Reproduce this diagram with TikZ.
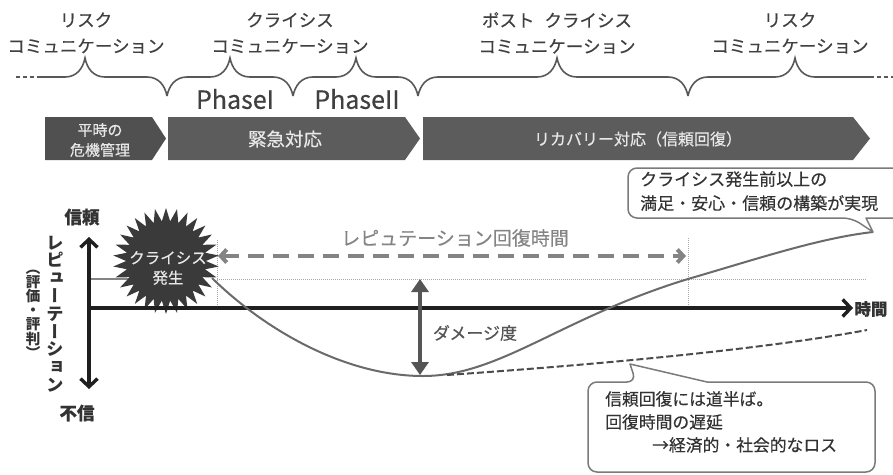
\documentclass[tikz,border=0pt]{standalone}
\usepackage{fontspec}
\setmainfont[FakeBold=0.35]{Noto Sans CJK JP}
\newfontfamily\vjp[RawFeature=+vert]{Noto Sans CJK JP}
\usetikzlibrary{arrows.meta,shapes.geometric}
\definecolor{hdrcol}{HTML}{404040}
\definecolor{bracecol}{HTML}{585858}
\definecolor{chevA}{HTML}{505050}
\definecolor{chevB}{HTML}{5C5C5C}
\definecolor{chevtxt}{HTML}{E8E8E8}
\definecolor{curvecol}{HTML}{6A6A6A}
\definecolor{dotcol}{HTML}{A8A8A8}
\definecolor{spancol}{HTML}{848484}
\definecolor{dmgcol}{HTML}{555555}
\definecolor{burstcol}{HTML}{3A3A3A}
\definecolor{calloutcol}{HTML}{7A7A7A}
\definecolor{txtcol}{HTML}{333333}
\tikzset{
  hdr/.style={align=center, text=hdrcol, inner sep=0, font=\fontsize{17.5}{26}\selectfont},
  phase/.style={text=hdrcol, inner sep=0, font=\fontsize{25}{28}\selectfont},
  brace/.style={draw=bracecol, line width=1.6pt},
  chevtext/.style={text=chevtxt, align=center, inner sep=0},
  axisline/.style={draw=black!88, line width=3.4pt},
  barb/.style={-{Straight Barb[length=8pt,width=17pt]}},
  guide/.style={draw=dotcol, line width=0.9pt, dash pattern=on 1pt off 1pt},
  curve/.style={draw=curvecol, line width=2pt},
  span/.style={draw=spancol, line width=4pt, dash pattern=on 16pt off 9pt},
  dmg/.style={draw=dmgcol, line width=4.5pt, {Triangle[length=13pt,width=17pt]}-{Triangle[length=13pt,width=17pt]}},
  callout/.style={draw=calloutcol, fill=white, line width=1.5pt, line join=round},
  graphlbl/.style={text=txtcol, inner sep=0, font=\bfseries\fontsize{17.5}{20}\selectfont},
  calltext/.style={text=txtcol, inner sep=0, align=left, anchor=north west},
}
\begin{document}
\begin{tikzpicture}[x=1pt,y=-1pt]
\useasboundingbox (0,0) rectangle (893,474);
\fill[white] (0,0) rectangle (893,474);

% ---- header labels
\node[hdr] (rc1) at (86,33) {リスク\\コミュニケーション};
\node[hdr] (cc) at (290,33) {クライシス\\コミュニケーション};
\node[hdr] (pc) at (557,33) {ポスト\hspace{10pt}クライシス\\コミュニケーション};
\node[hdr] (rc2) at (790,33) {リスク\\コミュニケーション};

% ---- braces
\draw[brace, dash pattern=on 4pt off 3pt] (16,77) -- (40,77);
\draw[brace] (40,77) -- (65,77) .. controls (77,77) and (83,68) .. (85,58)
  .. controls (87,68) and (93,77) .. (105,77) -- (147,77)
  .. controls (159,77) and (165,86) .. (167,96);
\foreach \a/\m/\b in {167/230/293, 293/356/418, 418/557/688} {
  \draw[brace] (\a,96) .. controls (\a+2,86) and (\a+8,77) .. (\a+20,77) -- (\m-20,77)
    .. controls (\m-8,77) and (\m-2,68) .. (\m,58)
    .. controls (\m+2,68) and (\m+8,77) .. (\m+20,77) -- (\b-20,77)
    .. controls (\b-8,77) and (\b-2,86) .. (\b,96);
}
\draw[brace] (688,96) .. controls (690,86) and (696,77) .. (708,77) -- (775,77)
  .. controls (787,77) and (793,68) .. (795,58)
  .. controls (797,68) and (803,77) .. (815,77) -- (870,77);
\draw[brace, dash pattern=on 4pt off 3pt] (870,77) -- (893,77);

\node[phase] (p1) at (235,99) {PhaseI};
\node[phase] (p2) at (357,99) {PhaseII};

% ---- chevrons
\fill[chevA] (45,117) -- (152,117) -- (166,138.5) -- (152,160) -- (45,160) -- cycle;
\fill[chevB] (168,117) -- (405,117) -- (420,138.5) -- (405,160) -- (168,160) -- cycle;
\fill[chevB] (423,117) -- (853,117) -- (870,138.5) -- (853,160) -- (423,160) -- cycle;
\node[chevtext, font=\fontsize{15}{20}\selectfont] (c1) at (100,140) {平時の\\危機管理};
\node[chevtext, font=\fontsize{18.5}{20}\selectfont] (c2) at (285,139) {緊急対応};
\node[chevtext, font=\fontsize{16}{20}\selectfont] (c3) at (638,139) {リカバリー対応（信頼回復）};

% ---- coordinates
\coordinate (ytop) at (89,237);
\coordinate (ybot) at (89,389);
\coordinate (orig) at (89,308);
\coordinate (xend) at (853,308);
\coordinate (pre0) at (89,279);
\coordinate (crisis) at (212,278);
\coordinate (minpt) at (423,376);
\coordinate (recov) at (688,279);
\coordinate (goal) at (873,232);
\coordinate (lossend) at (867,330);

% ---- guides
\draw[guide] (217,279) -- (867,279);
\draw[guide] (217,240) -- (217,307);
\draw[guide] (688,238) -- (688,307);

% ---- pre-crisis level
\draw[curve, draw=spancol] (pre0) -- (130,279);

% ---- burst
\node[star, star points=30, star point ratio=1.33, minimum size=106pt, inner sep=0, fill=burstcol] (burst) at (166,261) {};
\node[align=center, text=chevtxt, inner sep=0, font=\fontsize{15.5}{20}\selectfont] (bursttxt) at (168,268) {クライシス\\発生};

% ---- axes
\draw[axisline, barb] (orig) -- (xend);
\draw[axisline, {Straight Barb[length=8pt,width=17pt]}-{Straight Barb[length=8pt,width=17pt]}] (ytop) -- (ybot);

% ---- curves
\draw[curve] (crisis) .. controls (265,330) and (345,376) .. (minpt)
  .. controls (500,376) and (560,318) .. (recov)
  .. controls (760,258) and (820,238) .. (goal);
\draw[draw=black!70, line width=2pt, dash pattern=on 7pt off 3pt] (447,375) .. controls (590,365) and (760,350) .. (lossend);

% ---- span arrow
\coordinate (spanL) at (218,256);
\coordinate (spanR) at (686,256);
\draw[span, {Straight Barb[length=6pt,width=13pt]}-{Straight Barb[length=6pt,width=13pt]}] (spanL) -- (spanR);
\node[text=spancol, inner sep=0, font=\fontsize{19}{22}\selectfont] (spanlbl) at (455,238) {レピュテーション回復時間};

% ---- damage
\coordinate (dtop) at (420,279);
\coordinate (dbot) at (420,375);
\draw[dmg] (dtop) -- (dbot);
\node[text=dmgcol, inner sep=0, font=\fontsize{17}{20}\selectfont] (dmglbl) at (475,333) {ダメージ度};

% ---- axis labels
\node[graphlbl] (trust) at (82,217) {信頼};
\node[graphlbl] (distrust) at (77,413) {不信};
\node[graphlbl, font=\bfseries\fontsize{16.5}{20}\selectfont] (time) at (871,309) {時間};
\node[align=center, inner sep=0, text=txtcol, font=\vjp\bfseries\fontsize{17.5}{17.8}\selectfont] (rep) at (55,314) {レ\\ピ\\ュ\\ー\\テ\\ー\\シ\\ョ\\ン};
\node[align=center, inner sep=0, text=txtcol, font=\vjp\bfseries\fontsize{14.5}{14.2}\selectfont] (rep2) at (33,314) {（\\評\\価\\・\\評\\判\\）};

% ---- callouts
\draw[callout] (866,218) [rounded corners=9pt] -- (905,218) -- (905,168) -- (628,168) -- (628,218) -- (852,218) [sharp corners] -- (873,232) -- cycle;
\node[calltext, font=\fontsize{17}{24}\selectfont] (top) at (640,171) {クライシス発生前以上の\\満足・安心・信頼の構築が実現};

\draw[callout] (707,382) [rounded corners=9pt] -- (875,382) -- (875,472) -- (588,472) -- (588,382) -- (636,382) [sharp corners] -- (630,364) -- cycle;
\node[calltext, font=\fontsize{16.8}{23}\selectfont] (bot) at (605,391) {信頼回復には道半ば。\\回復時間の遅延\\\hspace{47pt}→経済的・社会的なロス};
\end{tikzpicture}
\end{document}
